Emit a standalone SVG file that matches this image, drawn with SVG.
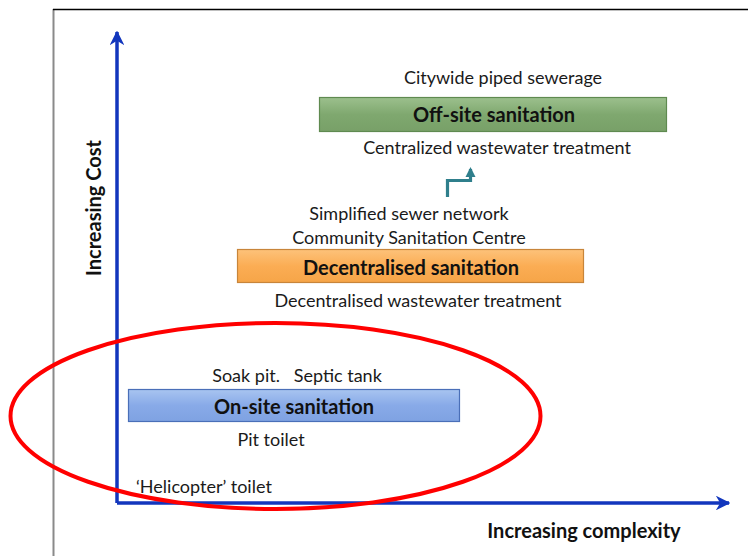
<svg xmlns="http://www.w3.org/2000/svg" width="748" height="556" viewBox="0 0 748 556">
  <defs>
    <style>
      .lbl { font-family: Lato, "Open Sans", "Liberation Sans", sans-serif; font-size: 18px; fill: #1a1a1a; }
      .box-title { font-family: Lato, "Open Sans", "Liberation Sans", sans-serif; font-size: 20px; font-weight: bold; fill: #111; }
      .axis-title { font-family: Lato, "Open Sans", "Liberation Sans", sans-serif; font-size: 20px; font-weight: bold; fill: #111; }
      .axis { stroke: #1236bd; stroke-width: 3.5; fill: none; }
    </style>
    <linearGradient id="gGreen" x1="0" y1="0" x2="0" y2="1">
      <stop offset="0" stop-color="#9cc08d"/>
      <stop offset="0.5" stop-color="#7fa86f"/>
      <stop offset="1" stop-color="#78a068"/>
    </linearGradient>
    <linearGradient id="gOrange" x1="0" y1="0" x2="0" y2="1">
      <stop offset="0" stop-color="#fdc27a"/>
      <stop offset="0.5" stop-color="#fbad54"/>
      <stop offset="1" stop-color="#f6a548"/>
    </linearGradient>
    <linearGradient id="gBlue" x1="0" y1="0" x2="0" y2="1">
      <stop offset="0" stop-color="#a8c4f0"/>
      <stop offset="0.5" stop-color="#88aae8"/>
      <stop offset="1" stop-color="#7fa2e2"/>
    </linearGradient>
    <marker id="axisHead" viewBox="0 0 10 10" refX="9" refY="5" markerWidth="4.2" markerHeight="4.2" orient="auto" markerUnits="strokeWidth">
      <path d="M0,0 L10,5 L0,10 L3,5 Z" fill="#1236bd"/>
    </marker>
    <marker id="tealHead" viewBox="0 0 10 10" refX="8" refY="5" markerWidth="3.2" markerHeight="3.2" orient="auto" markerUnits="strokeWidth">
      <path d="M0,0 L10,5 L0,10 Z" fill="#2f7f8c"/>
    </marker>
  </defs>

  <rect width="748" height="556" fill="#ffffff"/>

  <!-- page frame -->
  <line x1="53.5" y1="9" x2="53.5" y2="556" stroke="#8a8a8a" stroke-width="2"/>
  <line x1="53" y1="9.5" x2="748" y2="9.5" stroke="#000" stroke-width="1.5"/>

  <!-- axes and step arrow -->
  <g id="connectors">
    <path class="axis" d="M117,503 L117,32" marker-end="url(#axisHead)"/>
    <path class="axis" d="M117,503 L729,503" marker-end="url(#axisHead)"/>
    <path d="M447.5,197 L447.5,180.5 L470.5,180.5 L470.5,169" fill="none" stroke="#2f7f8c" stroke-width="3.2" marker-end="url(#tealHead)"/>
  </g>

  <text class="axis-title" transform="translate(101,208) rotate(-90)" text-anchor="middle">Increasing Cost</text>
  <text class="axis-title" x="584" y="538" text-anchor="middle">Increasing complexity</text>

  <!-- off-site -->
  <g id="offsite">
    <text class="lbl" x="503" y="84" text-anchor="middle">Citywide piped sewerage</text>
    <rect x="319.5" y="97.5" width="347" height="34" fill="url(#gGreen)" stroke="#5f8a50" stroke-width="1.2"/>
    <text class="box-title" x="494" y="122" text-anchor="middle">Off-site sanitation</text>
    <text class="lbl" x="497" y="154" text-anchor="middle">Centralized wastewater treatment</text>
  </g>

  <!-- decentralised -->
  <g id="decentralised">
    <text class="lbl" x="409" y="220" text-anchor="middle">Simplified sewer network</text>
    <text class="lbl" x="409" y="244" text-anchor="middle">Community Sanitation Centre</text>
    <rect x="237.5" y="249.5" width="346" height="33" fill="url(#gOrange)" stroke="#c8853a" stroke-width="1.2"/>
    <text class="box-title" x="411" y="275" text-anchor="middle">Decentralised sanitation</text>
    <text class="lbl" x="418" y="307" text-anchor="middle">Decentralised wastewater treatment</text>
  </g>

  <!-- on-site -->
  <g id="onsite">
    <text class="lbl" x="297" y="382" text-anchor="middle" xml:space="preserve">Soak pit.   Septic tank</text>
    <rect x="128.5" y="389.5" width="331" height="32" fill="url(#gBlue)" stroke="#4a6fb8" stroke-width="1.2"/>
    <text class="box-title" x="294" y="414" text-anchor="middle">On-site sanitation</text>
    <text class="lbl" x="271" y="446" text-anchor="middle">Pit toilet</text>
    <text class="lbl" x="136" y="493">‘Helicopter’ toilet</text>
  </g>

  <!-- highlight ring round the on-site options -->
  <ellipse id="highlight" cx="275.5" cy="416" rx="265" ry="93" fill="none" stroke="#ff0000" stroke-width="4"/>
</svg>
